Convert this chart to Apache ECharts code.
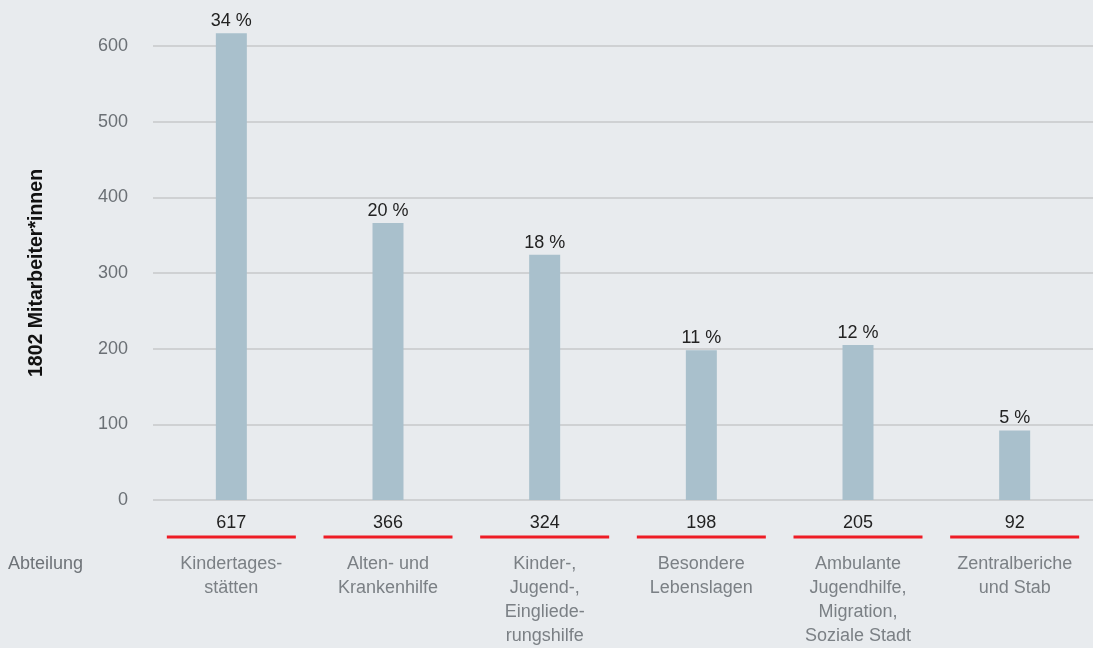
<!DOCTYPE html>
<html><head><meta charset="utf-8">
<script src="https://cdn.jsdelivr.net/npm/echarts@6/dist/echarts.min.js"></script>
<style>html,body{margin:0;padding:0;background:#e8ebee;}#c{width:1093px;height:648px;}</style>
</head><body><div id="c"></div>
<script>
const categories = ["Kindertages-\nstätten","Alten- und\nKrankenhilfe","Kinder-,\nJugend-,\nEingliede-\nrungshilfe","Besondere\nLebenslagen","Ambulante\nJugendhilfe,\nMigration,\nSoziale Stadt","Zentralberiche\nund Stab"];
const values = [617, 366, 324, 198, 205, 92];
const percents = [34, 20, 18, 11, 12, 5];
const yTicks = [0, 100, 200, 300, 400, 500, 600];
const yAxisName = "1802 Mitarbeiter*innen";
const xAxisName = "Abteilung";

const font = "'Liberation Sans', Arial, sans-serif";
const chart = echarts.init(document.getElementById('c'), null, {renderer:'canvas'});
chart.setOption({
  backgroundColor: '#e8ebee',
  animation: false,
  grid: {left: 153, right: -12, top: 46, bottom: 148, containLabel: false},
  graphic: [{type:'text', left: 8, top: 555, style:{text: xAxisName, font: "18px " + font, fill: '#6e7378'}}],
  xAxis: {
    type: 'category', data: categories,
    axisLine: {show: false}, axisTick: {show: false},
    axisLabel: {
      interval: 0, margin: 11,
      formatter: function(v, i){
        const lines = v.split('\n').map(l => '{c|' + l + '}').join('\n');
        return '{v|' + values[i] + '}\n{line| }\n{s| }\n' + lines;
      },
      rich: {
        v: {fontSize: 18, fontFamily: font, color: '#222', lineHeight: 24, align:'center'},
        line: {width: 129, height: 3, lineHeight: 4, backgroundColor: '#ee1c25', fontSize: 1},
        s: {lineHeight: 13, fontSize: 1},
        c: {fontSize: 18, fontFamily: font, color: '#7b8085', lineHeight: 24, align:'center'}
      }
    }
  },
  yAxis: {
    type: 'value', min: yTicks[0], max: yTicks[yTicks.length-1], interval: 100,
    name: yAxisName, nameLocation: 'middle', nameRotate: 90, nameGap: 106,
    nameTextStyle: {fontSize: 19.5, fontWeight: 'bold', color: '#111', fontFamily: font},
    axisLine: {show: false}, axisTick: {show: false},
    axisLabel: {margin: 25, fontSize: 18, color: '#6b7075', fontFamily: font},
    splitLine: {lineStyle: {color: '#cfd1d3', width: 2}}
  },
  series: [{
    type: 'bar', data: values, barWidth: 31, clip: false,
    itemStyle: {color: '#a9c0cc'},
    label: {show: true, position: 'top', distance: 3, fontSize: 18, fontFamily: font, color: '#222',
      formatter: p => percents[p.dataIndex] + ' %'}
  }]
});
</script></body></html>
